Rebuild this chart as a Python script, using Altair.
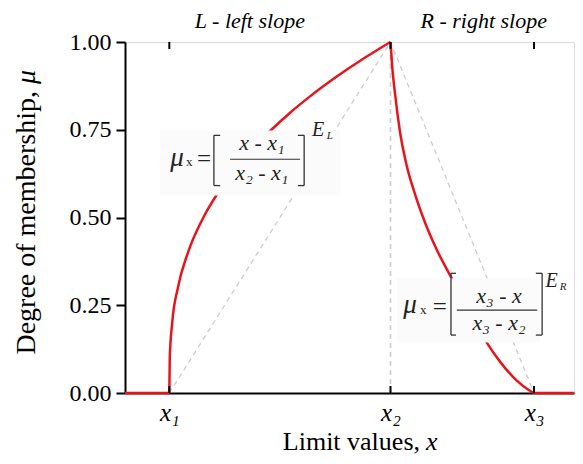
import altair as alt
import pandas as pd

# ---- data ----
X1, X2, X3 = 9.87, 59.13, 91.1
tick_values = [X1, X2, X3]
tick_labels = ["x\u2081", "x\u2082", "x\u2083"]
y_ticks = [0.0, 0.25, 0.5, 0.75, 1.0]

flat_left_x = [0.0, 9.87]
flat_right_x = [91.1, 100.0]

left_x = [9.87, 9.97, 10.51, 11.78, 14.02, 17.45, 22.3, 28.7, 32.6, 36.9, 41.0, 47.0, 52.8, 59.13]
left_y = [0.0, 0.10, 0.20, 0.30, 0.40, 0.50, 0.60, 0.70, 0.75, 0.80, 0.843, 0.90, 0.95, 1.0]

right_x = [59.13, 59.5, 60.1, 61.2, 62.7, 64.6, 66.9, 69.6, 72.8, 76.4, 80.5, 83.6, 87.2, 90.0, 91.1]
right_y = [1.0, 0.932, 0.857, 0.748, 0.650, 0.566, 0.483, 0.404, 0.326, 0.238, 0.145, 0.088, 0.036, 0.008, 0.0]

tri_x = [X1, X2, X3]
tri_y = [0.0, 1.0, 0.0]

FONT = "Liberation Serif"
RED = "#e8141c"
GRAY = "#cccccc"
INK = "#222222"

W, H = 449, 351

xs = alt.Scale(domain=[0, 100], nice=False, zero=False)
ys = alt.Scale(domain=[0, 1], nice=False, zero=False)

label_expr = " : ".join(
    f"abs(datum.value - {v}) < 0.01 ? '{t}'" for v, t in zip(tick_values[:-1], tick_labels[:-1])
) + f" : '{tick_labels[-1]}'"

X = lambda: alt.X("x:Q", scale=xs)
Y = lambda: alt.Y("y:Q", scale=ys)

axis_x = alt.X("x:Q", scale=xs, axis=alt.Axis(
    values=tick_values, labelExpr=label_expr, title=None,
    labelFont=FONT, labelFontStyle="italic", labelFontSize=25, labelColor="black",
    labelPadding=7, tickSize=0, domainColor="black", domainWidth=2, grid=False))
axis_y = alt.Y("y:Q", scale=ys, axis=alt.Axis(
    values=y_ticks, format=".2f", title=None,
    labelFont=FONT, labelFontSize=24, labelColor="black", labelPadding=5,
    tickSize=9, tickWidth=2, tickColor="black", domainColor="black", domainWidth=2,
    grid=False))

tri = alt.Chart(pd.DataFrame({"x": tri_x, "y": tri_y, "o": [0, 1, 2]})).mark_line(
    color=GRAY, strokeDash=[5, 4], strokeWidth=1.3).encode(x=axis_x, y=axis_y, order="o:Q")

vline = alt.Chart(pd.DataFrame({"x": [X2], "y": [0.0], "y2": [1.0]})).mark_rule(
    color=GRAY, strokeDash=[5, 4], strokeWidth=1.6).encode(x=X(), y=Y(), y2="y2:Q")

def red_line(xv, yv, interp):
    return alt.Chart(pd.DataFrame({"x": xv, "y": yv})).mark_line(
        color=RED, strokeWidth=2.5, interpolate=interp).encode(x=X(), y=Y())

left = red_line(left_x, left_y, "monotone")
right = red_line(right_x, right_y, "monotone")
flat_l = red_line(flat_left_x, [0.0, 0.0], "linear")
flat_r = red_line(flat_right_x, [0.0, 0.0], "linear")

ticks_df = pd.DataFrame({"x": tick_values})
ticks_bottom = alt.Chart(ticks_df).mark_rule(color="black", strokeWidth=2).encode(
    x=X(), y=alt.value(H), y2=alt.value(H - 7))
ticks_top = alt.Chart(ticks_df).mark_rule(color="black", strokeWidth=2).encode(
    x=X(), y=alt.value(0), y2=alt.value(7))

# ---- formula annotations ----
boxes = pd.DataFrame({"x": [7.8, 60.6], "x2": [47.9, 92.4], "y": [0.563, 0.144], "y2": [0.748, 0.327]})
box = alt.Chart(boxes).mark_rect(color="#fbfbfb").encode(x=X(), x2="x2:Q", y=Y(), y2="y2:Q")

frac = pd.DataFrame({"x": [23.4, 73.9], "x2": [39.0, 91.8], "y": [0.666, 0.236]})
frac_lines = alt.Chart(frac).mark_rule(color="#333", strokeWidth=1.2).encode(
    x=X(), x2="x2:Q", y=Y())

# brackets: (x of vertical stroke, x of serif end, y bottom, y top)
brackets = [(19.8, 21.2, 0.591, 0.734), (39.9, 38.5, 0.591, 0.734),
            (72.6, 73.7, 0.165, 0.341), (92.9, 91.5, 0.165, 0.341)]
seg = []
for xa, xb, yb, yt in brackets:
    seg.append({"x": xa, "x2": xa, "y": yb, "y2": yt})
    seg.append({"x": xa, "x2": xb, "y": yb, "y2": yb})
    seg.append({"x": xa, "x2": xb, "y": yt, "y2": yt})
bracket_marks = alt.Chart(pd.DataFrame(seg)).mark_rule(color="#333", strokeWidth=1.3).encode(
    x=X(), x2="x2:Q", y=Y(), y2="y2:Q")

def txt(rows, size, style="normal", align="center", color=INK):
    return alt.Chart(pd.DataFrame(rows, columns=["t", "x", "y"])).mark_text(
        font=FONT, fontSize=size, fontStyle=style, align=align, baseline="alphabetic",
        color=color).encode(x=X(), y=Y(), text="t:N")

mu = txt([["\u03bc", 11.58, 0.648], ["\u03bc", 63.5, 0.227]], 27, "italic")
mu_sub = txt([["x", 14.3, 0.646], ["x", 66.4, 0.224]], 13)
eq = txt([["=", 17.6, 0.643], ["=", 70.1, 0.221]], 25)
nums = txt([["x - x\u2081", 30.5, 0.692], ["x\u2082 - x\u2081", 30.5, 0.606],
            ["x\u2083 - x", 83.3, 0.256], ["x\u2083 - x\u2082", 83.3, 0.179]], 22, "italic")
exps = txt([["E", 43.0, 0.731], ["E", 95.0, 0.301]], 20, "italic")
exps_sub = txt([["L", 45.6, 0.724], ["R", 97.6, 0.294]], 11, "italic")

heads = txt([["L - left slope", 27.8, 1.040], ["R - right slope", 79.9, 1.040]], 22, "italic", color="black")

# ---- axis titles as text (mixed upright / italic) ----
def title_txt(t, x, y, size, style, align, angle=0):
    return alt.Chart(pd.DataFrame({"t": [t]})).mark_text(
        font=FONT, fontSize=size, fontStyle=style, align=align, baseline="alphabetic",
        angle=angle, color="black").encode(x=alt.value(x), y=alt.value(y), text="t:N")

xt1 = title_txt("Limit values,", 295, 408, 26, "normal", "right")
xt2 = title_txt("x", 301, 408, 26, "italic", "left")
yt1 = title_txt("Degree of membership,", -90, 49, 28, "normal", "right", 270)
yt2 = title_txt("\u03bc", -90, 42, 28, "italic", "left", 270)

chart = alt.layer(
    tri, vline, flat_l, flat_r, left, right, box, frac_lines, bracket_marks,
    mu, mu_sub, eq, nums, exps, exps_sub, heads, ticks_bottom, ticks_top,
    xt1, xt2, yt1, yt2
).properties(
    width=W, height=H, autosize="none",
    padding={"left": 117, "top": 34, "right": 1, "bottom": 63}
).configure_view(stroke="black", strokeWidth=2).configure(background="white")

chart.save("out.html", embed_options={"renderer": "svg", "actions": False})
